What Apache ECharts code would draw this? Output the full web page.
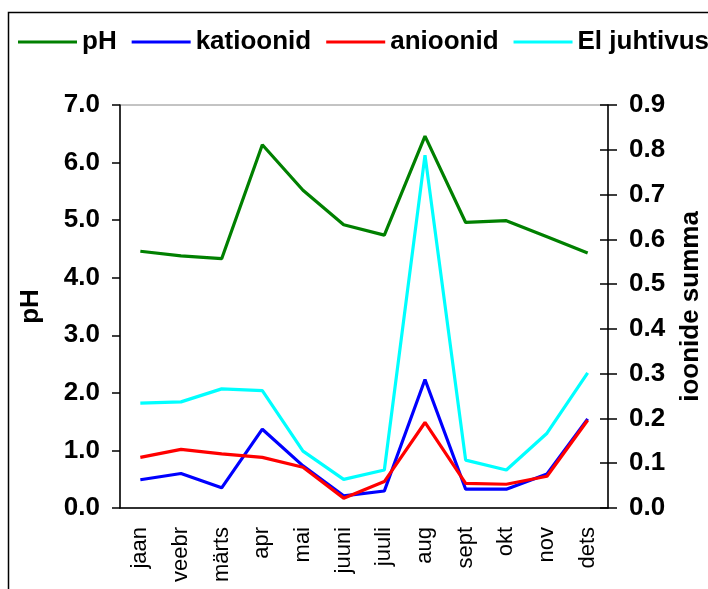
<!DOCTYPE html>
<html>
<head>
<meta charset="utf-8">
<script src="https://cdn.jsdelivr.net/npm/echarts@6/dist/echarts.min.js"></script>
<style>
  html, body { margin: 0; padding: 0; background: #fff; }
  #chart { width: 708px; height: 589px; }
</style>
</head>
<body>
<div id="chart"></div>
<script>
// kuud
const months = ['jaan', 'veebr', 'märts', 'apr', 'mai', 'juuni', 'juuli', 'aug', 'sept', 'okt', 'nov', 'dets']

// vasak telg
const phValues = [4.46, 4.38, 4.33, 6.31, 5.52, 4.92, 4.74, 6.46, 4.96, 4.99, 4.71, 4.43]

// parem telg (ioonide summa)
const katioonid = [0.063, 0.077, 0.045, 0.176, 0.094, 0.027, 0.038, 0.287, 0.042, 0.042, 0.076, 0.199]
const anioonid = [0.113, 0.131, 0.121, 0.113, 0.091, 0.022, 0.059, 0.191, 0.055, 0.053, 0.071, 0.196]
const elJuhtivus = [0.234, 0.237, 0.266, 0.262, 0.127, 0.064, 0.085, 0.788, 0.107, 0.085, 0.167, 0.302]

const font = "'Liberation Sans', Arial, sans-serif"

const chart = echarts.init(document.getElementById('chart'))

function lineSeries(name, data, color, axis) {
  return {
    name: name,
    type: 'line',
    yAxisIndex: axis,
    data: data,
    symbol: 'none',
    color: color,
    lineStyle: { color: color, width: 3.2 },
    animation: false
  }
}

chart.setOption({
  backgroundColor: '#fff',
  graphic: [{
    type: 'rect',
    shape: { x: 8.5, y: 12.5, width: 800, height: 700 },
    style: { fill: 'none', stroke: '#000', lineWidth: 1.5 }
  }],
  legend: {
    left: 18,
    top: 29,
    width: 760,
    padding: 0,
    itemWidth: 59,
    itemHeight: 3,
    itemGap: 15,
    icon: 'rect',
    textStyle: { fontFamily: font, fontSize: 26, fontWeight: 'bold', color: '#000' },
    data: ['pH', 'katioonid', 'anioonid', 'El juhtivus']
  },
  grid: {
    left: 120,
    right: 100,
    top: 105,
    bottom: 81,
    outerBoundsMode: 'none',
    show: true,
    borderColor: '#888',
    borderWidth: 1
  },
  xAxis: {
    type: 'category',
    data: months,
    boundaryGap: true,
    axisLine: { lineStyle: { color: '#000', width: 1.5 } },
    axisTick: { length: 8, lineStyle: { color: '#000', width: 1.5 } },
    axisLabel: { rotate: 90, margin: 19, fontFamily: font, fontSize: 22, color: '#000' }
  },
  yAxis: [{
    type: 'value',
    min: 0,
    max: 7,
    interval: 1,
    name: 'pH',
    nameLocation: 'middle',
    nameGap: 76,
    nameTextStyle: { fontFamily: font, fontSize: 26, fontWeight: 'bold', color: '#000' },
    splitLine: { show: false },
    axisLine: { show: true, lineStyle: { color: '#000', width: 1.5 } },
    axisTick: { show: true, length: 8, lineStyle: { color: '#000', width: 1.5 } },
    axisLabel: {
      margin: 20, fontFamily: font, fontSize: 26, fontWeight: 'bold', color: '#000',
      formatter: v => v.toFixed(1)
    }
  }, {
    type: 'value',
    position: 'right',
    min: 0,
    max: 0.9,
    interval: 0.1,
    name: 'ioonide summa',
    nameLocation: 'middle',
    nameGap: 70,
    nameTextStyle: { fontFamily: font, fontSize: 26, fontWeight: 'bold', color: '#000' },
    splitLine: { show: false },
    axisLine: { show: true, lineStyle: { color: '#000', width: 1.5 } },
    axisTick: { show: true, length: 9, lineStyle: { color: '#000', width: 1.5 } },
    axisLabel: {
      margin: 21, fontFamily: font, fontSize: 26, fontWeight: 'bold', color: '#000',
      formatter: v => v.toFixed(1)
    }
  }, {
    // sisemised kriipsud paremal teljel
    type: 'value',
    position: 'right',
    min: 0,
    max: 0.9,
    interval: 0.1,
    splitLine: { show: false },
    axisLine: { show: false },
    axisTick: { show: true, inside: true, length: 8, lineStyle: { color: '#000', width: 1.5 } },
    axisLabel: { show: false }
  }],
  series: [
    lineSeries('pH', phValues, '#008000', 0),
    lineSeries('katioonid', katioonid, '#0000ff', 1),
    lineSeries('anioonid', anioonid, '#ff0000', 1),
    lineSeries('El juhtivus', elJuhtivus, '#00ffff', 1)
  ]
})
</script>
</body>
</html>
